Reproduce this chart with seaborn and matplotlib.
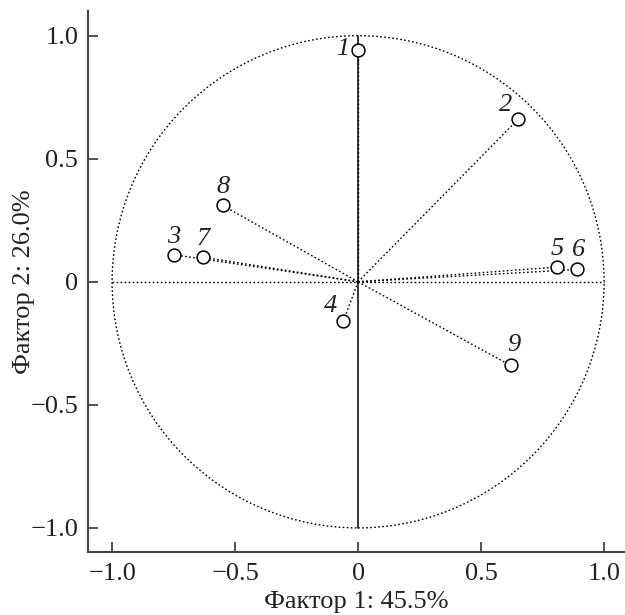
import numpy as np
import pandas as pd
import matplotlib
matplotlib.use("Agg")
import matplotlib.pyplot as plt
from matplotlib.patches import Circle
import seaborn as sns

# Factor loadings of the nine variables
labels = ["1", "2", "3", "4", "5", "6", "7", "8", "9"]
factor1 = [0.00, 0.65, -0.75, -0.06, 0.81, 0.89, -0.63, -0.55, 0.62]
factor2 = [0.94, 0.66, 0.11, -0.16, 0.06, 0.05, 0.10, 0.31, -0.34]

# Label offsets (points) relative to each marker
label_dx = [-11, -9, 0, -9, 0, 1, 0, 0, 2]
label_dy = [1, 10, 13, 11, 13, 14, 13, 13, 15]

tick_values = [-1.0, -0.5, 0.0, 0.5, 1.0]
tick_labels = ["\u22121.0", "\u22120.5", "0", "0.5", "1.0"]

x_title = "Фактор 1: 45.5%"
y_title = "Фактор 2: 26.0%"

sns.set_style("ticks")
plt.rcParams["font.family"] = ["Liberation Serif", "DejaVu Serif"]

df = pd.DataFrame({"label": labels, "f1": factor1, "f2": factor2})

fig = plt.figure(figsize=(6.25, 6.15), dpi=100)
ax = fig.add_axes([0.1408, 0.1024, 0.8592, 0.8796])

dot = (0, (1.2, 1.7))

# Unit correlation circle
ax.add_patch(Circle((0, 0), 1.0, fill=False, edgecolor="black",
                    linewidth=1.0, linestyle=dot, zorder=1))
# Reference axes through the origin
ax.plot([-1, 1], [0, 0], color="black", linewidth=1.0, linestyle=dot, zorder=1)
ax.plot([0, 0], [-1, 1], color="black", linewidth=1.1, linestyle="-", zorder=1)

# Vectors from the origin to each loading
for x, y in zip(df["f1"], df["f2"]):
    ax.plot([0, x], [0, y], color="black", linewidth=1.0, linestyle=dot, zorder=2)

sns.scatterplot(data=df, x="f1", y="f2", ax=ax, marker="o", s=85,
                facecolor="white", edgecolor="black", linewidth=1.1,
                zorder=3, legend=False)

for lab, x, y, dx, dy in zip(df["label"], df["f1"], df["f2"], label_dx, label_dy):
    ax.annotate(lab, (x, y), xytext=(dx, dy), textcoords="offset points",
                ha="center", va="center", fontsize=19, fontstyle="italic",
                color="#222222")

ax.set_xlim(-1.098, 1.085)
ax.set_ylim(-1.098, 1.10)
ax.set_xticks(tick_values)
ax.set_xticklabels(tick_labels)
ax.set_yticks(tick_values)
ax.set_yticklabels(tick_labels)
ax.tick_params(direction="in", length=7, width=1.2, labelsize=19,
               colors="#333333", labelcolor="#222222")
ax.tick_params(axis="x", pad=8)
ax.tick_params(axis="y", pad=7)
for side in ["left", "bottom"]:
    ax.spines[side].set_linewidth(1.5)
    ax.spines[side].set_color("#444444")
sns.despine(ax=ax)

ax.set_xlabel(x_title, fontsize=19, color="#222222", labelpad=4)
ax.set_ylabel(y_title, fontsize=19, color="#222222")
ax.yaxis.set_label_coords(-0.098, 0.5)

fig.savefig("out.png", dpi=100)
